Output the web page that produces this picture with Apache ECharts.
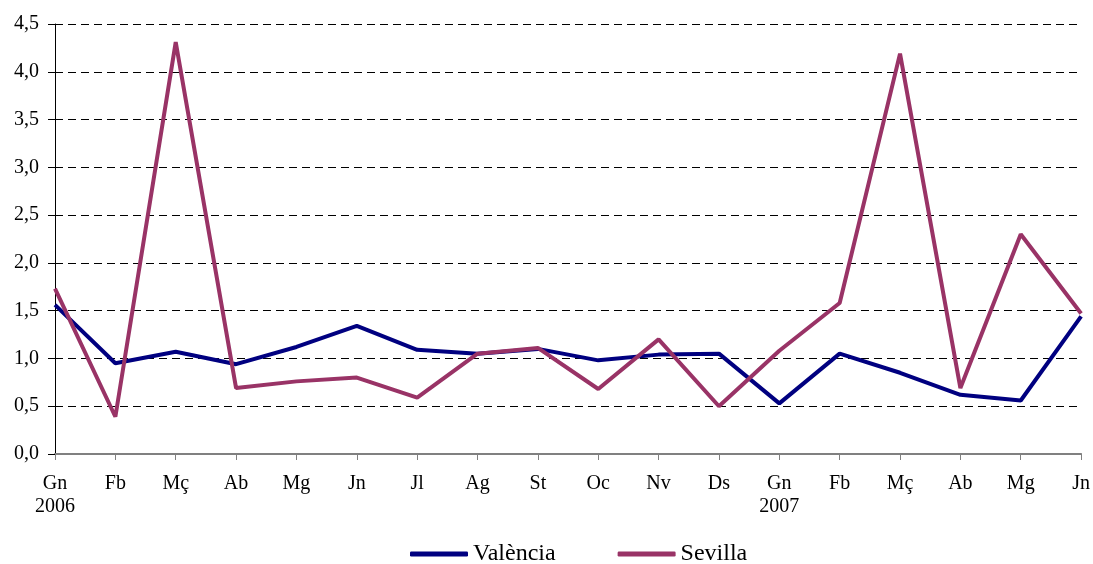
<!DOCTYPE html>
<html>
<head>
<meta charset="utf-8">
<script src="https://cdn.jsdelivr.net/npm/echarts@6/dist/echarts.min.js"></script>
<style>
  html, body { margin: 0; padding: 0; background: #fff; }
  #chart { width: 1093px; height: 564px; }
</style>
</head>
<body>
<div id="chart"></div>
<script>
// months and the year shown under the first month of each year
var months = ['Gn', 'Fb', 'Mç', 'Ab', 'Mg', 'Jn', 'Jl', 'Ag', 'St', 'Oc', 'Nv', 'Ds', 'Gn', 'Fb', 'Mç', 'Ab', 'Mg', 'Jn'];
var years = ['2006', '', '', '', '', '', '', '', '', '', '', '', '2007', '', '', '', '', ''];

var valencia = [1.56, 0.95, 1.07, 0.94, 1.12, 1.34, 1.09, 1.05, 1.10, 0.98, 1.04, 1.05, 0.53, 1.05, 0.85, 0.62, 0.56, 1.44];
var sevilla = [1.73, 0.39, 4.31, 0.69, 0.76, 0.80, 0.59, 1.05, 1.11, 0.68, 1.20, 0.50, 1.08, 1.58, 4.19, 0.69, 2.30, 1.47];

var categories = months.map(function (m, i) { return i; });

var dom = document.getElementById('chart');
var myChart = echarts.init(dom, null, { renderer: 'canvas' });

var font = '"Liberation Serif", "Times New Roman", serif';

var option = {
    animation: false,
    color: ['#000080', '#993366'],
    textStyle: { fontFamily: font },
    grid: { left: 55, right: 9, top: 24, bottom: 110, containLabel: false },
    legend: {
        top: 537,
        left: 405,
        icon: 'roundRect',
        itemWidth: 58,
        itemHeight: 5,
        itemGap: 62,
        textStyle: { fontFamily: font, fontSize: 24, color: '#000' },
        data: ['València', 'Sevilla']
    },
    xAxis: {
        type: 'category',
        boundaryGap: false,
        data: categories,
        axisLine: { lineStyle: { color: '#808080', width: 2 } },
        axisTick: { show: true, alignWithLabel: true, length: 6, lineStyle: { color: '#808080' } },
        axisLabel: {
            interval: 0,
            margin: 18,
            color: '#000',
            fontFamily: font,
            fontSize: 20,
            lineHeight: 23,
            formatter: function (v, i) {
                return years[i] ? months[i] + '\n' + years[i] : months[i] + '\n ';
            }
        },
        splitLine: { show: false }
    },
    yAxis: {
        type: 'value',
        min: 0,
        max: 4.5,
        interval: 0.5,
        axisLine: { show: true, lineStyle: { color: '#000', width: 1 } },
        axisTick: { show: true, length: 7, lineStyle: { color: '#000' } },
        axisLabel: {
            margin: 16,
            color: '#000',
            fontFamily: font,
            fontSize: 20,
            formatter: function (v) { return v.toFixed(1).replace('.', ','); }
        },
        splitLine: { show: true, lineStyle: { color: '#000', type: [8, 5], width: 1 } }
    },
    series: [
        {
            name: 'València',
            type: 'line',
            data: valencia,
            symbol: 'none',
            lineStyle: { width: 4 },
            z: 3
        },
        {
            name: 'Sevilla',
            type: 'line',
            data: sevilla,
            symbol: 'none',
            lineStyle: { width: 4 },
            z: 4
        }
    ]
};

myChart.setOption(option, true);
</script>
</body>
</html>
